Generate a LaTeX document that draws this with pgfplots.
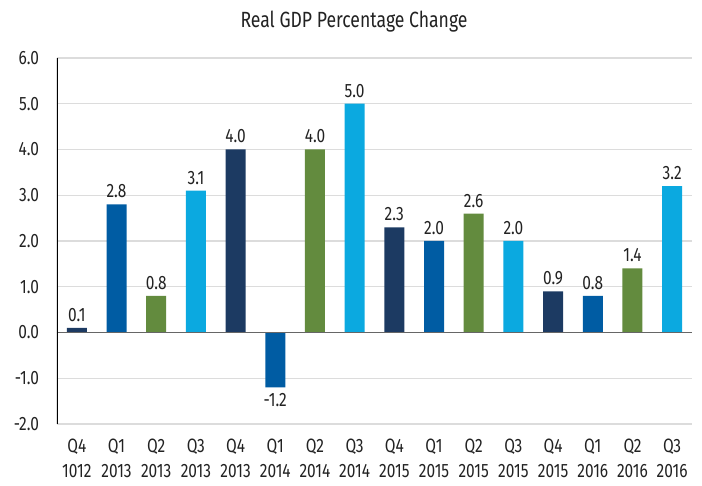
\documentclass[border=0pt]{standalone}
\usepackage{fontspec}
\setmainfont{Fira Sans}[FakeStretch=0.8]
\usepackage{pgfplots}
\pgfplotsset{compat=1.18}

\definecolor{cnavy}{HTML}{1C3A62}
\definecolor{cblue}{HTML}{005CA3}
\definecolor{cgreen}{HTML}{638B3E}
\definecolor{ccyan}{HTML}{0BA9E0}
\definecolor{gridgray}{HTML}{DCDCDC}
\definecolor{txt}{HTML}{222222}

\begin{document}
\begin{tikzpicture}
\begin{axis}[
    name=ax,
    scale only axis,
    width=476.25pt, height=274.5pt,
    xmin=-0.5, xmax=15.5,
    ymin=-2, ymax=6,
    ybar, bar width=15pt, bar shift=0pt,
    axis line style={draw=none},
    major tick length=0pt,
    ytick={-2,-1,0,1,2,3,4,5,6},
    ymajorgrids, grid style={gridgray, line width=0.8pt},
    xtick={0,...,15},
    xticklabels={{Q4\\1012},{Q1\\2013},{Q2\\2013},{Q3\\2013},{Q4\\2013},{Q1\\2014},{Q2\\2014},{Q3\\2014},{Q4\\2015},{Q1\\2015},{Q2\\2015},{Q3\\2015},{Q4\\2015},{Q1\\2016},{Q2\\2016},{Q3\\2016}},
    xticklabel style={align=center, font=\fontsize{14.5}{18.5}\selectfont, yshift=-8pt, text=txt},
    yticklabel style={font=\fontsize{14.5}{16}\selectfont, xshift=-10pt, text=txt,
        /pgf/number format/fixed, /pgf/number format/fixed zerofill, /pgf/number format/precision=1},
    /pgf/number format/assume math mode=true,
    nodes near coords,
    nodes near coords style={font=\fontsize{14.5}{16}\selectfont, text=txt, inner sep=4.5pt,
        /pgf/number format/fixed, /pgf/number format/fixed zerofill, /pgf/number format/precision=1},
]
\addplot[fill=cnavy, draw=none] coordinates {(0,0.1) (4,4.0) (8,2.3) (12,0.9)};
\addplot[fill=cblue, draw=none] coordinates {(1,2.8) (5,-1.2) (9,2.0) (13,0.8)};
\addplot[fill=cgreen, draw=none] coordinates {(2,0.8) (6,4.0) (10,2.6) (14,1.4)};
\addplot[fill=ccyan, draw=none] coordinates {(3,3.1) (7,5.0) (11,2.0) (15,3.2)};
\draw[black!60, line width=1pt] (axis cs:-0.5,0) -- (axis cs:15.5,0);
\draw[black, line width=1pt] (axis cs:-0.5,-2) -- (axis cs:-0.5,6);
\end{axis}
\node[font=\fontsize{16.5}{19}\selectfont, text=txt] at ([xshift=222.75pt, yshift=27pt]ax.north west) {Real GDP Percentage Change};
\pgfresetboundingbox
\path[use as bounding box] ([xshift=-42.75pt, yshift=-45.75pt]ax.south west) rectangle ([xshift=7.5pt, yshift=43.5pt]ax.north east);
\end{tikzpicture}
\end{document}
